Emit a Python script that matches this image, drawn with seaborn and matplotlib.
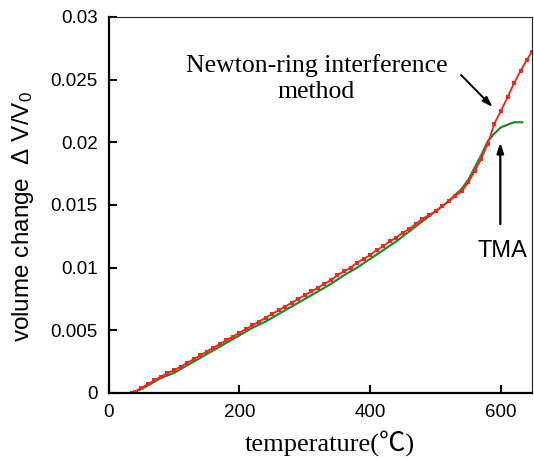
import numpy as np
import pandas as pd
import matplotlib

matplotlib.use('Agg')
import matplotlib.pyplot as plt
import seaborn as sns

# Newton-ring interference method (red)
red_temp = [35, 40, 50, 60, 70, 80, 90, 100, 110, 120, 130, 140, 150, 160, 170, 180, 190,
            200, 210, 220, 230, 240, 250, 260, 270, 280, 290, 300, 310, 320, 330, 340, 350,
            360, 370, 380, 390, 400, 410, 420, 430, 440, 450, 460, 470, 480, 490, 500, 510,
            520, 530, 540, 550, 560, 570, 580, 590, 600, 610, 620, 630, 640, 647]
red_dv = [0.0, 0.0001, 0.0004, 0.0007, 0.0010, 0.0013, 0.0016, 0.0018, 0.0021, 0.0024,
          0.0027, 0.0030, 0.0033, 0.0036, 0.0039, 0.0042, 0.0045, 0.0048, 0.0051, 0.0054,
          0.0057, 0.0060, 0.0063, 0.0066, 0.0069, 0.0072, 0.0075, 0.0078, 0.0081, 0.0084,
          0.0087, 0.0090, 0.0094, 0.0097, 0.0100, 0.0104, 0.0107, 0.0110, 0.0114, 0.0117,
          0.0121, 0.0124, 0.0128, 0.0131, 0.0135, 0.0139, 0.0142, 0.0145, 0.0149, 0.0153,
          0.0157, 0.0161, 0.0168, 0.0177, 0.0187, 0.0199, 0.0215, 0.0225, 0.0236, 0.0247,
          0.0257, 0.0266, 0.0272]

# TMA (green)
tma_temp = [35, 50, 60, 70, 80, 90, 100, 110, 120, 130, 140, 150, 160, 170, 180, 190, 200,
            220, 240, 260, 280, 300, 320, 340, 360, 380, 400, 420, 440, 460, 480, 500, 520,
            540, 550, 560, 570, 580, 590, 600, 610, 620, 633]
tma_dv = [0.0, 0.0003, 0.0006, 0.0009, 0.0012, 0.0014, 0.0016, 0.0019, 0.0022, 0.0025,
          0.0028, 0.0031, 0.0034, 0.0037, 0.0040, 0.0043, 0.0046, 0.0052, 0.0057, 0.0063,
          0.0069, 0.0075, 0.0081, 0.0087, 0.0094, 0.0100, 0.0107, 0.0114, 0.0121, 0.0129,
          0.0137, 0.0145, 0.0153, 0.0163, 0.0170, 0.0180, 0.0190, 0.0201, 0.0207, 0.0212,
          0.0214, 0.0216, 0.0216]

x_ticks = [0, 200, 400, 600]
y_ticks = [0, 0.005, 0.01, 0.015, 0.02, 0.025, 0.03]
y_ticklabels = ["0", "0.005", "0.01", "0.015", "0.02", "0.025", "0.03"]

sns.set_style("ticks")
plt.rcParams['font.family'] = ['Liberation Sans', 'DejaVu Sans']
plt.rcParams['mathtext.default'] = 'regular'
plt.rcParams['xtick.direction'] = 'in'
plt.rcParams['ytick.direction'] = 'in'
plt.rcParams['text.color'] = 'black'
plt.rcParams['axes.labelcolor'] = 'black'

fig = plt.figure(figsize=(5.34, 4.59), dpi=100)
ax = fig.add_axes([0.2034, 0.1438, 0.9957 - 0.2034, 0.963 - 0.1438])

sns.lineplot(x=tma_temp, y=tma_dv, ax=ax, color='#1f8a2e', linewidth=1.6, sort=False)
sns.lineplot(x=red_temp, y=red_dv, ax=ax, color='#ec2a22', linewidth=1.4, sort=False,
             marker='s', markersize=2.6, markeredgewidth=0)

ax.set_xlim(0, 647)
ax.set_ylim(0, 0.03)
ax.set_xticks(x_ticks)
ax.set_xticklabels([str(t) for t in x_ticks])
ax.set_yticks(y_ticks)
ax.set_yticklabels(y_ticklabels)
ax.tick_params(axis='both', labelsize=13.5, length=6, width=1.5, color='black',
               labelcolor='black')
ax.tick_params(axis='x', pad=8)
ax.tick_params(axis='y', pad=8)

for side in ['left', 'bottom']:
    ax.spines[side].set_linewidth(1.6)
    ax.spines[side].set_color('black')
for side in ['top', 'right']:
    ax.spines[side].set_visible(True)
    ax.spines[side].set_linewidth(0.8)
    ax.spines[side].set_color('#222222')

ax.set_ylabel("volume change  Δ V/V$_0$", fontsize=17.5)
ax.yaxis.set_label_coords(-0.172, 0.468)
ax.set_xlabel("temperature(℃)", fontsize=19,
              family=['Liberation Serif', 'Noto Sans CJK JP'])
ax.xaxis.set_label_coords(0.523, -0.098)

ax.text(318, 0.0251, "Newton-ring interference\nmethod", fontsize=18.5,
        family='Liberation Serif', ha='center', va='center', linespacing=1.2)
ax.annotate("", xy=(590, 0.02266), xytext=(536, 0.02553),
            arrowprops=dict(arrowstyle='-|>,head_length=0.6,head_width=0.2',
                            color='black', lw=1.4))
ax.annotate("", xy=(599, 0.0202), xytext=(599, 0.01325),
            arrowprops=dict(arrowstyle='-|>,head_length=0.6,head_width=0.2',
                            color='black', lw=1.6))
ax.text(602, 0.01133, "TMA", fontsize=17, ha='center', va='center')

plt.savefig("out.png", dpi=100)
